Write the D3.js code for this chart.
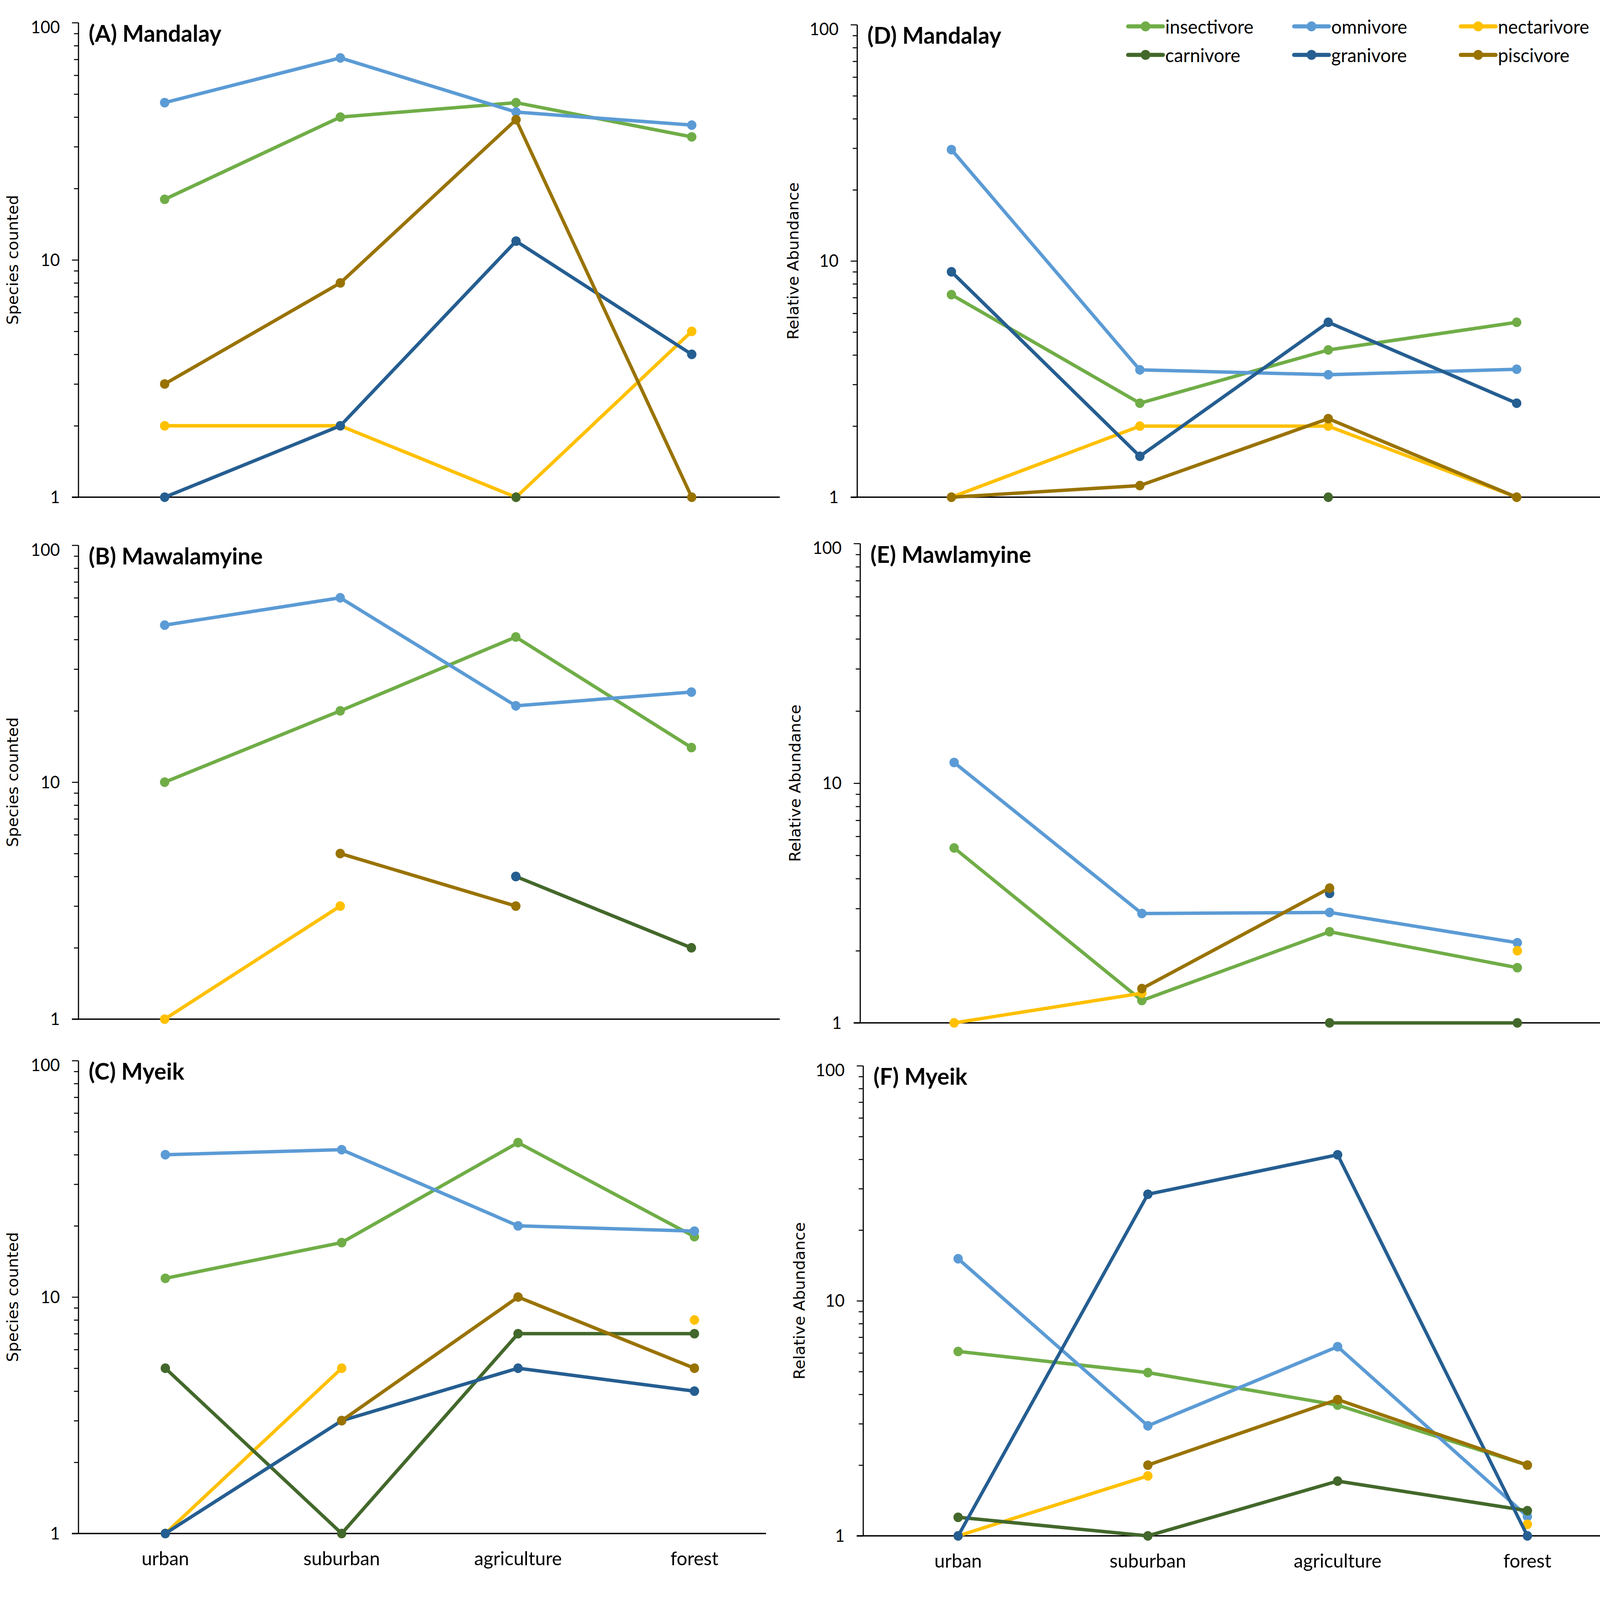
<!DOCTYPE html>
<html>
<head>
<meta charset="utf-8">
<script src="https://cdn.jsdelivr.net/npm/d3@7"></script>
<style>
  html, body { margin: 0; padding: 0; background: #ffffff; overflow: hidden; width: 100%; height: 100%; }
  svg { display: block; width: 100vw; height: 100vh; }
</style>
</head>
<body>
<script>
// ---------------- DATA ----------------
const categories = ["urban", "suburban", "agriculture", "forest"];
const guilds = ["insectivore", "omnivore", "nectarivore", "carnivore", "granivore", "piscivore"];
const guildColors = ["#70AD47", "#5B9BD5", "#FFC000", "#43682B", "#255E91", "#997300"];
const majorTicks = [1, 10, 100];
const minorTicks = [2, 3, 4, 5, 6, 7, 8, 9, 20, 30, 40, 50, 60, 70, 80, 90];

// rows follow guild order: insectivore, omnivore, nectarivore, carnivore, granivore, piscivore
const mandalaySpecies = [
  [18, 40, 46, 33],
  [46, 71, 42, 37],
  [2, 2, 1, 5],
  [null, null, 1, null],
  [1, 2, 12, 4],
  [3, 8, 39, 1]
];
const mawlamyineSpecies = [
  [10, 20, 41, 14],
  [46, 60, 21, 24],
  [1, 3, null, null],
  [null, null, 4, 2],
  [null, null, 4, null],
  [null, 5, 3, null]
];
const myeikSpecies = [
  [12, 17, 45, 18],
  [40, 42, 20, 19],
  [1, 5, null, 8],
  [5, 1, 7, 7],
  [1, 3, 5, 4],
  [null, 3, 10, 5]
];
const mandalayAbundance = [
  [7.2, 2.5, 4.2, 5.5],
  [29.6, 3.46, 3.3, 3.48],
  [1, 2, 2, 1],
  [null, null, 1, null],
  [9.0, 1.49, 5.5, 2.5],
  [1, 1.12, 2.15, 1]
];
const mawlamyineAbundance = [
  [5.37, 1.24, 2.4, 1.7],
  [12.2, 2.86, 2.89, 2.16],
  [1, 1.33, null, 2.0],
  [null, null, 1, 1],
  [null, null, 3.47, null],
  [null, 1.39, 3.65, null]
];
const myeikAbundance = [
  [6.09, 4.95, 3.6, 2.0],
  [15.1, 2.94, 6.38, 1.21],
  [1, 1.8, null, 1.12],
  [1.2, 1, 1.71, 1.28],
  [1, 28.4, 41.8, 1],
  [null, 2.0, 3.8, 2.0]
];

const panelTitles = ["(A) Mandalay", "(B) Mawalamyine", "(C) Myeik", "(D) Mandalay", "(E) Mawlamyine", "(F) Myeik"];
const panelData = [mandalaySpecies, mawlamyineSpecies, myeikSpecies, mandalayAbundance, mawlamyineAbundance, myeikAbundance];
const yTitles = ["Species counted", "Species counted", "Species counted", "Relative Abundance", "Relative Abundance", "Relative Abundance"];

// ---------------- LAYOUT ----------------
const W = 4781, H = 4666;
const layout = [
  {axisX: 234, top: 66,   bottom: 1450, xEnd: 2330, c0: 492,  c1: 2067, yLabX: 38,   xLabels: false},
  {axisX: 234, top: 1590, bottom: 2972, xEnd: 2330, c0: 492,  c1: 2066, yLabX: 38,   xLabels: false},
  {axisX: 234, top: 3093, bottom: 4472, xEnd: 2289, c0: 494,  c1: 2075, yLabX: 38,   xLabels: true},
  {axisX: 2561, top: 72,  bottom: 1450, xEnd: 4781, c0: 2843, c1: 4532, yLabX: 2370, xLabels: false},
  {axisX: 2570, top: 1585, bottom: 2983, xEnd: 4781, c0: 2851, c1: 4534, yLabX: 2376, xLabels: false},
  {axisX: 2579, top: 3108, bottom: 4479, xEnd: 4781, c0: 2863, c1: 4564, yLabX: 2388, xLabels: true}
];

const tickFont = "Lato, 'Open Sans', sans-serif";
const svg = d3.select("body").append("svg")
  .attr("viewBox", `0 0 ${W} ${H}`)
  .attr("preserveAspectRatio", "none");
svg.append("rect").attr("width", W).attr("height", H).attr("fill", "#fff");

layout.forEach((L, pi) => {
  const g = svg.append("g");
  const y = d3.scaleLog().domain([1, 100]).range([L.bottom, L.top]);
  const x = d3.scalePoint().domain(categories).range([L.c0, L.c1]);

  // minor ticks
  const minorAxis = d3.axisLeft(y).tickValues(minorTicks).tickSize(13).tickSizeOuter(0).tickFormat("");
  const gm = g.append("g").attr("transform", `translate(${L.axisX},0)`).call(minorAxis);
  gm.select(".domain").remove();
  gm.selectAll(".tick line").attr("stroke", "#000").attr("stroke-width", 3);

  // major ticks + labels
  const majorAxis = d3.axisLeft(y).tickValues(majorTicks).tickSize(19).tickSizeOuter(0)
    .tickPadding(36).tickFormat(d3.format("d"));
  const ga = g.append("g").attr("transform", `translate(${L.axisX},0)`).call(majorAxis);
  ga.select(".domain").attr("stroke", "#000").attr("stroke-width", 3.5)
    .attr("d", `M0.5,${L.top}V${L.bottom}`);
  ga.selectAll(".tick line").attr("stroke", "#000").attr("stroke-width", 3);
  ga.selectAll(".tick text")
    .attr("font-family", tickFont).attr("font-size", 50).attr("fill", "#000")
    .attr("dy", d => d === 100 ? "0.6em" : "0.34em");

  // x axis line (at value 1)
  g.append("line")
    .attr("x1", L.axisX - 19).attr("x2", L.xEnd)
    .attr("y1", y(1)).attr("y2", y(1))
    .attr("stroke", "#000").attr("stroke-width", 4);

  // category labels
  if (L.xLabels) {
    g.selectAll("text.cat").data(categories).enter().append("text")
      .attr("class", "cat")
      .attr("x", d => x(d)).attr("y", y(1) + 93)
      .attr("text-anchor", "middle")
      .attr("font-family", tickFont).attr("font-size", 56).attr("fill", "#000")
      .text(d => d);
  }

  // y title
  const yMid = (L.top + L.bottom) / 2;
  g.append("text")
    .attr("transform", `translate(${L.yLabX},${yMid}) rotate(-90)`)
    .attr("text-anchor", "middle").attr("dominant-baseline", "central")
    .attr("font-family", "'DejaVu Sans', Verdana, sans-serif").attr("font-size", 46).attr("fill", "#000")
    .text(yTitles[pi]);

  // panel title
  g.append("text")
    .attr("x", L.axisX + 31).attr("y", L.top + 56)
    .attr("font-family", tickFont).attr("font-weight", "bold").attr("font-size", 68).attr("fill", "#000")
    .text(panelTitles[pi]);

  // series
  const line = d3.line()
    .defined(d => d.v != null)
    .x(d => x(d.c)).y(d => y(d.v));
  panelData[pi].forEach((row, si) => {
    const pts = row.map((v, i) => ({c: categories[i], v: v}));
    const sg = g.append("g");
    sg.append("path").datum(pts)
      .attr("d", line).attr("fill", "none")
      .attr("stroke", guildColors[si]).attr("stroke-width", 10)
      .attr("stroke-linejoin", "round").attr("stroke-linecap", "round");
    sg.selectAll("circle").data(pts.filter(d => d.v != null)).enter().append("circle")
      .attr("cx", d => x(d.c)).attr("cy", d => y(d.v)).attr("r", 14)
      .attr("fill", guildColors[si]);
  });
});

// ---------------- LEGEND ----------------
const legCols = [3371, 3867, 4365];
const legRows = [77, 160];
const legLen = 104;
const leg = svg.append("g");
guilds.forEach((name, i) => {
  const cx = legCols[i % 3], cy = legRows[Math.floor(i / 3)];
  const item = leg.append("g");
  item.append("line").attr("x1", cx).attr("x2", cx + legLen).attr("y1", cy).attr("y2", cy)
    .attr("stroke", guildColors[i]).attr("stroke-width", 12).attr("stroke-linecap", "round");
  item.append("circle").attr("cx", cx + legLen / 2).attr("cy", cy).attr("r", 14.5).attr("fill", guildColors[i]);
  item.append("text").attr("x", cx + legLen + 7).attr("y", cy).attr("dominant-baseline", "central")
    .attr("font-family", tickFont).attr("font-size", 55).attr("fill", "#000").text(name);
});
</script>
</body>
</html>
